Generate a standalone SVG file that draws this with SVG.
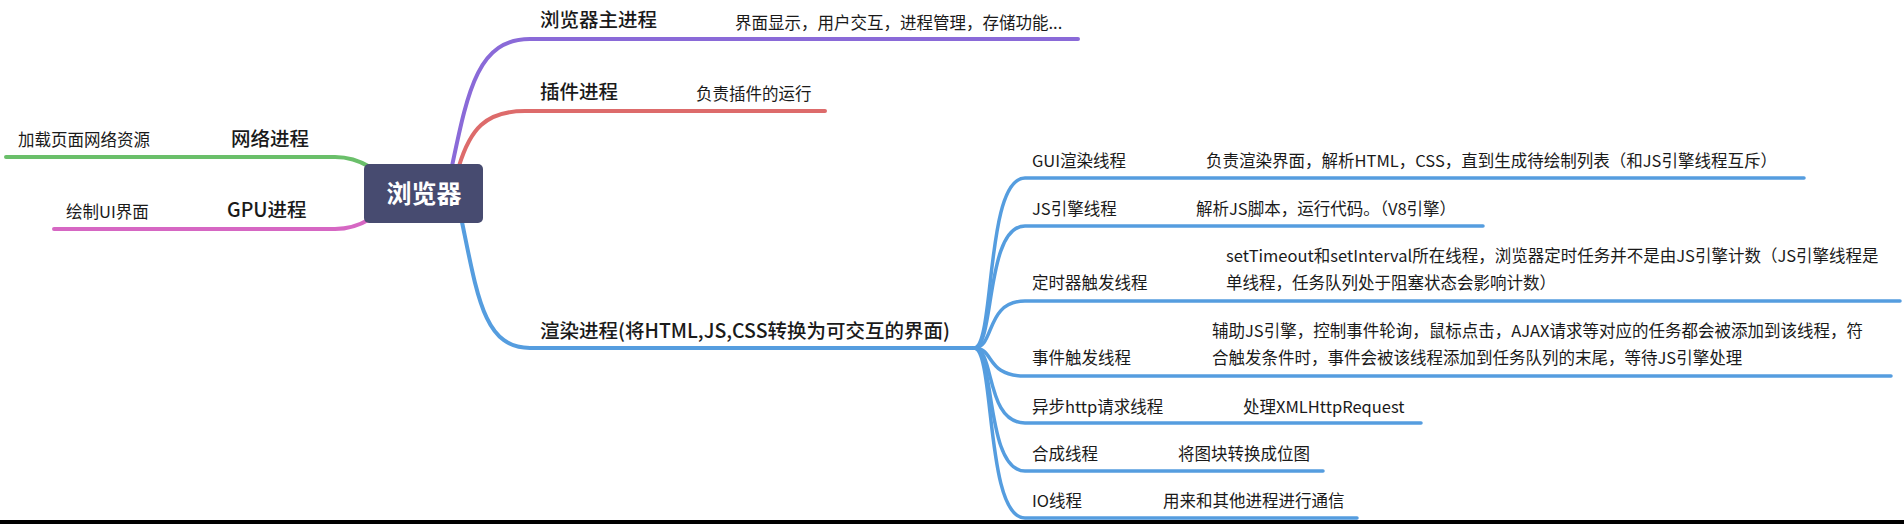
<svg xmlns="http://www.w3.org/2000/svg" width="1904" height="524" viewBox="0 0 1904 524">
<style>
text{font-family:"Noto Sans CJK SC","Noto Sans",sans-serif;fill:#1a1a1a}
.t1{font-size:19.5px;font-weight:500}
.t2{font-size:16.5px}
.root{font-size:25px;font-weight:700;fill:#ffffff}
.c{fill:none;stroke-linecap:round}
.main{stroke-width:4}
.sub{stroke-width:3.5;stroke:#559ddf}
</style>
<rect x="0" y="0" width="1904" height="524" fill="#ffffff"/>
<g id="connectors">
<path class="c main" stroke="#8a6ad8" d="M452 166 C468 90 478 39 530 39 L1078 39"/>
<path class="c main" stroke="#dd6b6b" d="M459 166 C470 130 485 111 525 111 L825 111"/>
<path class="c main" stroke="#559ddf" d="M462 222 C478 300 485 348 530 348 L974 348"/>
<path class="c main" stroke="#6abf6a" d="M6 157 L335 157 C350 157 360 161 370 167"/>
<path class="c main" stroke="#d667c3" d="M54 229 L335 229 C350 229 360 225 370 219"/>
<path class="c sub" d="M974 348 C995 348 985 178 1025 178 L1804 178"/>
<path class="c sub" d="M974 348 C995 348 985 226 1025 226 L1483 226"/>
<path class="c sub" d="M974 348 C995 348 985 301 1025 301 L1900 301"/>
<path class="c sub" d="M974 348 C995 348 985 376 1025 376 L1891 376"/>
<path class="c sub" d="M974 348 C995 348 985 423 1025 423 L1421 423"/>
<path class="c sub" d="M974 348 C995 348 985 471 1025 471 L1323 471"/>
<path class="c sub" d="M974 348 C995 348 985 518 1025 518 L1357 518"/>
</g>
<g id="root">
<rect x="364" y="164" width="119" height="59" rx="5" fill="#474b70"/>
<text class="root" x="424" y="203" text-anchor="middle">浏览器</text>
</g>
<g id="node-main">
<text class="t1" x="540" y="27">浏览器主进程</text>
<text class="t2" x="735" y="29">界面显示，用户交互，进程管理，存储功能...</text>
</g>
<g id="node-plugin">
<text class="t1" x="540" y="99">插件进程</text>
<text class="t2" x="696" y="100">负责插件的运行</text>
</g>
<g id="node-network">
<text class="t1" x="231" y="146">网络进程</text>
<text class="t2" x="18" y="146">加载页面网络资源</text>
</g>
<g id="node-gpu">
<text class="t1" x="227" y="217">GPU进程</text>
<text class="t2" x="66" y="218">绘制UI界面</text>
</g>
<g id="node-render">
<text class="t1" x="540" y="338">渲染进程(将HTML,JS,CSS转换为可交互的界面)</text>
</g>
<g id="node-gui">
<text class="t2" x="1032" y="167">GUI渲染线程</text>
<text class="t2" x="1206" y="167">负责渲染界面，解析HTML，CSS，直到生成待绘制列表（和JS引擎线程互斥）</text>
</g>
<g id="node-js">
<text class="t2" x="1032" y="215">JS引擎线程</text>
<text class="t2" x="1196" y="215">解析JS脚本，运行代码。（V8引擎）</text>
</g>
<g id="node-timer">
<text class="t2" x="1032" y="289">定时器触发线程</text>
<text class="t2" x="1226" y="262">setTimeout和setInterval所在线程，浏览器定时任务并不是由JS引擎计数（JS引擎线程是</text>
<text class="t2" x="1226" y="289">单线程，任务队列处于阻塞状态会影响计数）</text>
</g>
<g id="node-event">
<text class="t2" x="1032" y="364">事件触发线程</text>
<text class="t2" x="1212" y="337">辅助JS引擎，控制事件轮询，鼠标点击，AJAX请求等对应的任务都会被添加到该线程，符</text>
<text class="t2" x="1212" y="364">合触发条件时，事件会被该线程添加到任务队列的末尾，等待JS引擎处理</text>
</g>
<g id="node-http">
<text class="t2" x="1032" y="413">异步http请求线程</text>
<text class="t2" x="1243" y="413">处理XMLHttpRequest</text>
</g>
<g id="node-composite">
<text class="t2" x="1032" y="460">合成线程</text>
<text class="t2" x="1178" y="460">将图块转换成位图</text>
</g>
<g id="node-io">
<text class="t2" x="1032" y="507">IO线程</text>
<text class="t2" x="1163" y="507">用来和其他进程进行通信</text>
</g>
<rect x="0" y="520" width="1904" height="4" fill="#000000"/>
</svg>
